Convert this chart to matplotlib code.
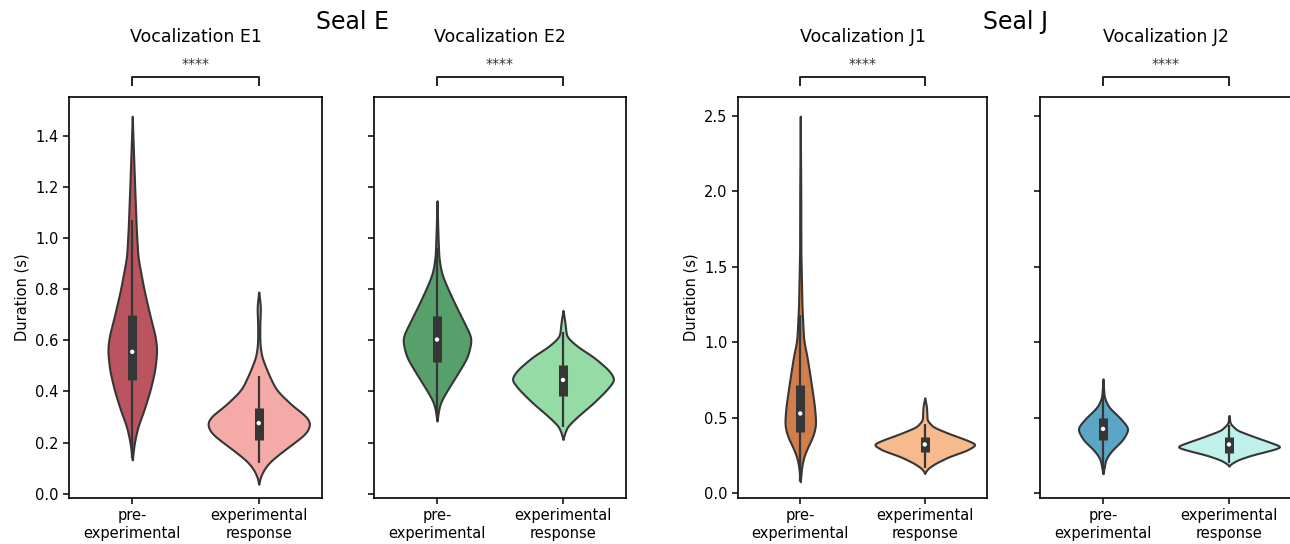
import matplotlib
matplotlib.use("Agg")
import matplotlib.pyplot as plt
import matplotlib.transforms as mtransforms
import numpy as np

# categories / tick labels
groups = ['pre-\nexperimental', 'experimental\nresponse']
panel_titles = ['Vocalization E1', 'Vocalization E2', 'Vocalization J1', 'Vocalization J2']
seal_titles = ['Seal E', 'Seal J']
sig_label = '****'

# violin outlines: duration levels (s) and relative density
e1_pre_y = [0.133, 0.20, 0.263, 0.328, 0.406, 0.484, 0.562, 0.614, 0.692, 0.796, 0.925, 1.03, 1.186, 1.30, 1.478]
e1_pre_d = [0, .04, .11, .23, .35, .44, .48, .45, .35, .23, .11, .08, .05, .03, 0]
e1_rsp_y = [0.048, 0.082, 0.12, 0.16, 0.20, 0.237, 0.276, 0.302, 0.341, 0.406, 0.471, 0.536, 0.588, 0.666, 0.731, 0.79]
e1_rsp_d = [0, .06, .18, .42, .68, .92, 1.0, .92, .66, .33, .18, .054, .02, .02, .034, 0]

e2_pre_y = [0.289, 0.354, 0.406, 0.471, 0.536, 0.608, 0.666, 0.731, 0.796, 0.861, 0.925, 1.03, 1.147]
e2_pre_d = [0, .054, .2, .4, .59, .67, .53, .37, .22, .086, .034, .016, 0]
e2_rsp_y = [0.217, 0.263, 0.302, 0.354, 0.406, 0.447, 0.484, 0.536, 0.575, 0.614, 0.666, 0.718]
e2_rsp_d = [0, .08, .28, .58, .84, 1.0, .88, .58, .28, .066, .04, 0]

j1_pre_y = [0.077, 0.176, 0.242, 0.308, 0.374, 0.451, 0.572, 0.727, 0.903, 1.013, 1.233, 1.6, 2.0, 2.5]
j1_pre_d = [0, .026, .066, .146, .246, .306, .28, .214, .134, .066, .034, .012, .01, 0]
j1_rsp_y = [0.136, 0.165, 0.198, 0.242, 0.286, 0.324, 0.352, 0.397, 0.44, 0.484, 0.572, 0.634]
j1_rsp_d = [0, .06, .2, .46, .82, 1.0, .82, .46, .16, .046, .034, 0]

j2_pre_y = [0.132, 0.231, 0.286, 0.352, 0.43, 0.506, 0.572, 0.638, 0.76]
j2_pre_d = [0, .054, .166, .366, .486, .3, .1, .02, 0]
j2_rsp_y = [0.187, 0.22, 0.253, 0.282, 0.308, 0.341, 0.374, 0.418, 0.463, 0.517]
j2_rsp_d = [0, .15, .42, .75, 1.0, .75, .48, .15, .02, 0]

# box stats: whisker low, q1, median, q3, whisker high
e1_pre_box = [0.14, 0.445, 0.555, 0.698, 1.07]
e1_rsp_box = [0.12, 0.21, 0.276, 0.335, 0.46]
e2_pre_box = [0.30, 0.516, 0.603, 0.694, 0.96]
e2_rsp_box = [0.26, 0.382, 0.445, 0.503, 0.633]
j1_pre_box = [0.08, 0.407, 0.529, 0.716, 1.18]
j1_rsp_box = [0.17, 0.275, 0.324, 0.374, 0.46]
j2_pre_box = [0.15, 0.352, 0.427, 0.502, 0.70]
j2_rsp_box = [0.20, 0.264, 0.324, 0.374, 0.45]

colors = [['#BA5560', '#F4AAA6'], ['#58A06B', '#95DBA5'],
          ['#D17E4B', '#F6BA8C'], ['#5BA6C4', '#BFF0EB']]

panels = [
    [(e1_pre_y, e1_pre_d, e1_pre_box), (e1_rsp_y, e1_rsp_d, e1_rsp_box)],
    [(e2_pre_y, e2_pre_d, e2_pre_box), (e2_rsp_y, e2_rsp_d, e2_rsp_box)],
    [(j1_pre_y, j1_pre_d, j1_pre_box), (j1_rsp_y, j1_rsp_d, j1_rsp_box)],
    [(j2_pre_y, j2_pre_d, j2_pre_box), (j2_rsp_y, j2_rsp_d, j2_rsp_box)],
]

# outline smoothing per violin (seconds)
smooth = [[0.018, 0.016], [0.018, 0.011], [0.03, 0.009], [0.02, 0.008]]

W, H = 1290, 544
fig = plt.figure(figsize=(W / 100, H / 100), dpi=100)

# axes boxes in pixels: left, right, top, bottom
px_boxes = [(69, 322), (374, 626), (738, 987), (1040, 1292)]
top_px, bot_px = 97, 498
axes = []
for l, r in px_boxes:
    ax = fig.add_axes([l / W, (H - bot_px) / H, (r - l) / W, (bot_px - top_px) / H])
    axes.append(ax)

dark = '#363636'
half_max = 0.4


def violin(ax, x, ys, ds, box, color, sigma):
    ys = np.asarray(ys, float)
    ds = np.asarray(ds, float)
    step = 0.001
    n = int(4 * sigma / step)
    yy = np.arange(ys[0] - n * step, ys[-1] + n * step + step / 2, step)
    ww = np.interp(yy, ys, ds, left=0, right=0)
    t = np.arange(-n, n + 1) * step
    k = np.exp(-0.5 * (t / sigma) ** 2)
    k /= k.sum()
    sm = np.convolve(ww, k, mode='same')
    sm *= ds.max() / sm.max()
    # trim the long faint tails back towards the read ends
    keep = (sm > 0.004) | ((yy >= ys[0]) & (yy <= ys[-1]))
    keep &= (yy >= ys[0] - 1.2 * sigma) & (yy <= ys[-1] + 1.2 * sigma)
    yy, sm = yy[keep], sm[keep]
    sm[0] = sm[-1] = 0
    sm *= half_max
    ax.fill_betweenx(yy, x - sm, x + sm, facecolor=color, edgecolor=dark,
                     linewidth=1.5, zorder=2)
    lo, q1, med, q3, hi = box
    ax.plot([x, x], [lo, hi], color=dark, lw=1.6, zorder=3, solid_capstyle='butt')
    ax.plot([x, x], [q1, q3], color=dark, lw=6.5, zorder=3, solid_capstyle='butt')
    ax.scatter([x], [med], s=10, color='white', zorder=4, edgecolors='none')


for i, ax in enumerate(axes):
    for j, (ys, ds, box) in enumerate(panels[i]):
        violin(ax, j, ys, ds, box, colors[i][j], smooth[i][j])
    ax.set_xlim(-0.5, 1.5)
    ax.set_xticks([0, 1])
    ax.set_xticklabels(groups, fontsize=10.5)
    for s in ax.spines.values():
        s.set_linewidth(1.2)
    ax.tick_params(labelsize=10.5, length=4, width=1.1)
    # title and significance bracket
    ax.text(0.5, (bot_px - 37) / (bot_px - top_px), panel_titles[i], transform=ax.transAxes,
            ha='center', va='center', fontsize=12.5)
    tr = mtransforms.blended_transform_factory(ax.transData, ax.transAxes)
    yb = (bot_px - 77) / (bot_px - top_px)
    ye = (bot_px - 85) / (bot_px - top_px)
    ax.plot([0, 0, 1, 1], [ye, yb, yb, ye], color='#222222', lw=1.4,
            transform=tr, clip_on=False)
    ax.text(0.5, (bot_px - 64) / (bot_px - top_px), sig_label, transform=tr,
            ha='center', va='center', fontsize=10, color='#333333')

for ax in axes[:2]:
    ax.set_ylim(-0.017, 1.552)
    ax.set_yticks(np.arange(0, 1.41, 0.2))
for ax in axes[2:]:
    ax.set_ylim(-0.031, 2.626)
    ax.set_yticks(np.arange(0, 2.51, 0.5))
for ax in (axes[1], axes[3]):
    ax.set_yticklabels([])
for ax in (axes[0], axes[2]):
    ax.set_ylabel('Duration (s)', fontsize=10.5)

title_x = [352, 1016]
for k, name in enumerate(seal_titles):
    fig.text(title_x[k] / W, 1 - 22 / H, name, ha='center', va='center', fontsize=17)

fig.savefig('out.png', dpi=100)
